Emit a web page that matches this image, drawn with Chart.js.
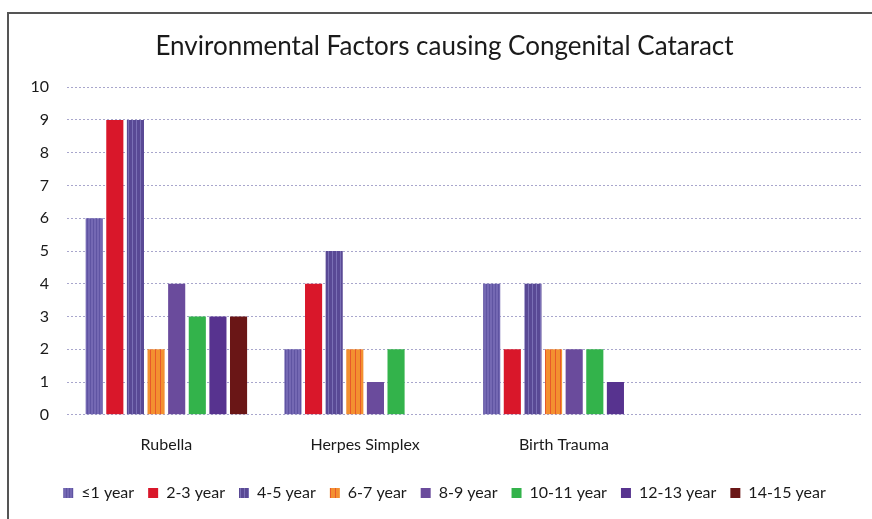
<!DOCTYPE html>
<html>
<head>
<meta charset="utf-8">
<script src="https://cdn.jsdelivr.net/npm/chart.js@4"></script>
<style>
  html, body { margin: 0; padding: 0; background: #fff; overflow: hidden; }
  #wrap { position: relative; width: 872px; height: 519px; }
  #frame { position: absolute; left: 7px; top: 12px; width: 900px; height: 600px; border: 2px solid #555; box-sizing: border-box; }
  canvas { position: absolute; left: 0; top: 0; }
</style>
</head>
<body>
<div id="wrap">
  <div id="frame"></div>
  <canvas id="myChart" width="872" height="519"></canvas>
</div>
<script>
// categories (last one is an empty slot in the original)
const categories = ['Rubella', 'Herpes Simplex', 'Birth Trauma', ''];
const ageGroups = ['≤1 year', '2-3 year', '4-5 year', '6-7 year', '8-9 year', '10-11 year', '12-13 year', '14-15 year'];

const age1 = [6, 2, 4, null];
const age2_3 = [9, 4, 2, null];
const age4_5 = [9, 5, 4, null];
const age6_7 = [2, 2, 2, null];
const age8_9 = [4, 1, 2, null];
const age10_11 = [3, 2, 2, null];
const age12_13 = [3, null, 1, null];
const age14_15 = [3, null, null, null];

const yTicks = [0, 1, 2, 3, 4, 5, 6, 7, 8, 9, 10];

function stripes(base, line, w) {
  const c = document.createElement('canvas');
  c.width = w; c.height = 4;
  const ctx = c.getContext('2d');
  ctx.fillStyle = base;
  ctx.fillRect(0, 0, w, 4);
  ctx.fillStyle = line;
  ctx.fillRect(0, 0, 1, 4);
  return ctx.createPattern(c, 'repeat');
}

const colours = [
  stripes('#7468b3', '#5f54a2', 3),
  '#d9172a',
  stripes('#594995', '#7a6fb5', 4),
  stripes('#f39030', '#e8582a', 5),
  '#6a4b9c',
  '#33b34b',
  '#57338f',
  '#6a1616'
];

const seriesValues = [age1, age2_3, age4_5, age6_7, age8_9, age10_11, age12_13, age14_15];

const datasets = ageGroups.map((name, i) => ({
  label: name,
  data: seriesValues[i],
  backgroundColor: colours[i],
  borderWidth: 0,
  categoryPercentage: 0.83,
  barPercentage: 0.83
}));

const font = 'Lato, "Open Sans", sans-serif';

const config = {
  type: 'bar',
  data: { labels: categories, datasets: datasets },
  options: {
    responsive: false,
    animation: false,
    layout: { padding: { left: 27, right: 10, top: 0, bottom: 8 } },
    plugins: {
      title: {
        display: true,
        text: 'Environmental Factors causing Congenital Cataract',
        color: '#1a1a1a',
        font: { family: font, size: 26, weight: 'normal' },
        padding: { top: 31, bottom: 25 }
      },
      legend: {
        position: 'bottom',
        labels: {
          boxWidth: 10,
          boxHeight: 10,
          padding: 14,
          color: '#1a1a1a',
          font: { family: font, size: 16 }
        }
      },
      tooltip: { enabled: false }
    },
    scales: {
      x: {
        afterFit: s => { s.height += 5; },
        grid: { display: false },
        border: { display: false },
        ticks: { color: '#1a1a1a', font: { family: font, size: 16 }, padding: 12 }
      },
      y: {
        min: 0,
        max: 10,
        afterFit: s => { s.width = 40; },
        afterBuildTicks: s => { s.ticks = yTicks.map(v => ({ value: v })); },
        grid: { color: '#a8a6cc', lineWidth: 1, drawTicks: false },
        border: { display: false, dash: [2, 2] },
        ticks: { color: '#1a1a1a', font: { family: font, size: 16 }, padding: 18 }
      }
    }
  }
};

const myChart = new Chart(document.getElementById('myChart'), config);
</script>
</body>
</html>
